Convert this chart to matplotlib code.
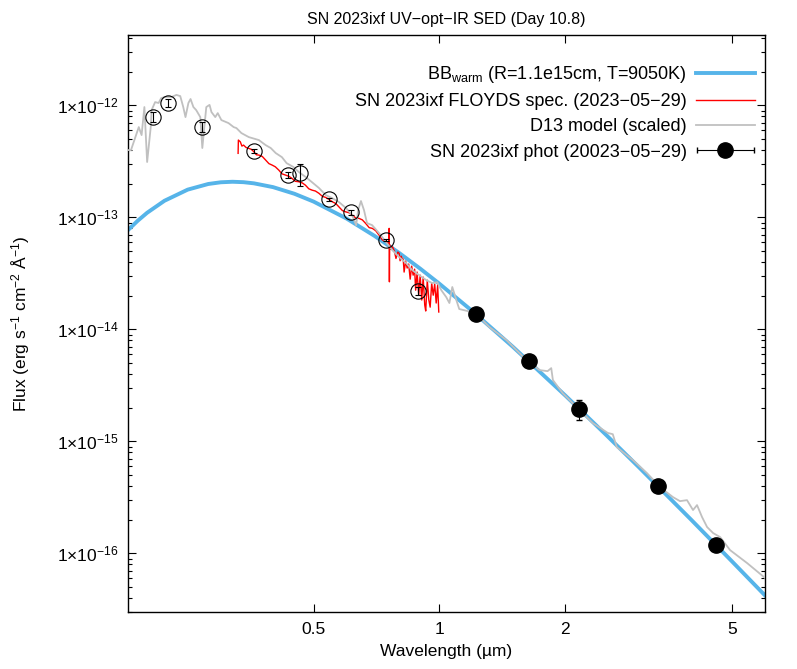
import numpy as np
import matplotlib
matplotlib.use("Agg")
import matplotlib.pyplot as plt
from matplotlib.ticker import FixedLocator, NullLocator, NullFormatter, FuncFormatter
from matplotlib.legend_handler import HandlerErrorbar
from matplotlib.container import ErrorbarContainer

plt.rcParams['font.family'] = ['Liberation Sans', 'DejaVu Sans']
plt.rcParams['mathtext.fontset'] = 'custom'
plt.rcParams['mathtext.rm'] = 'Liberation Sans'
plt.rcParams['mathtext.it'] = 'Liberation Sans:italic'
plt.rcParams['mathtext.bf'] = 'Liberation Sans:bold'

# blackbody curve (wavelength in um, flux in erg/s/cm2/A)
bb_wave = [0.18, 0.19, 0.20, 0.22, 0.25, 0.28, 0.30, 0.32, 0.34, 0.36, 0.40, 0.45,
           0.50, 0.60, 0.70, 0.80, 0.90, 1.0, 1.2, 1.5, 2.0, 2.5, 3.0, 4.0, 5.0, 6.0]
bb_flux = [7.70e-14, 9.35e-14, 1.100e-13, 1.407e-13, 1.769e-13, 1.987e-13, 2.058e-13,
           2.08e-13, 2.062e-13, 2.014e-13, 1.863e-13, 1.625e-13, 1.384e-13, 9.75e-14,
           6.82e-14, 4.83e-14, 3.479e-14, 2.553e-14, 1.450e-14, 6.957e-15, 2.564e-15,
           1.148e-15, 5.867e-16, 1.994e-16, 8.518e-17, 4.223e-17]

# FLOYDS spectrum
spec_wave = [0.330, 0.3305, 0.334, 0.337, 0.340, 0.345, 0.350, 0.355, 0.360, 0.365,
             0.370, 0.377, 0.384, 0.391, 0.398, 0.405, 0.413, 0.420, 0.428, 0.436,
             0.444, 0.452, 0.461, 0.470, 0.478, 0.487, 0.496, 0.505, 0.515, 0.525,
             0.534, 0.544, 0.554, 0.565, 0.575, 0.586, 0.597, 0.608, 0.619, 0.630,
             0.642, 0.654, 0.666, 0.679, 0.691, 0.704, 0.717, 0.730, 0.744, 0.755,
             0.757, 0.758, 0.759, 0.760, 0.765, 0.772, 0.780, 0.787, 0.795, 0.801,
             0.805, 0.810, 0.816,
             0.819, 0.823, 0.830, 0.837, 0.844, 0.851, 0.858, 0.865, 0.872, 0.877,
             0.884, 0.892, 0.899, 0.907, 0.914, 0.922, 0.927, 0.935, 0.943, 0.950,
             0.958, 0.966, 0.974, 0.982, 0.990, 0.996]
spec_flux = [3.73e-13, 4.90e-13, 4.73e-13, 4.33e-13, 4.42e-13, 4.20e-13, 4.13e-13, 4.05e-13, 3.85e-13, 3.62e-13,
             3.60e-13, 3.50e-13, 3.25e-13, 3.02e-13, 2.93e-13, 2.83e-13, 2.64e-13, 2.45e-13, 2.39e-13, 2.33e-13,
             2.23e-13, 2.10e-13, 2.08e-13, 2.03e-13, 1.94e-13, 1.80e-13, 1.75e-13, 1.72e-13, 1.64e-13, 1.54e-13,
             1.51e-13, 1.45e-13, 1.38e-13, 1.33e-13, 1.24e-13, 1.15e-13, 1.12e-13, 1.10e-13, 1.05e-13, 9.90e-14,
             9.80e-14, 9.50e-14, 8.84e-14, 8.10e-14, 7.98e-14, 7.60e-14, 6.95e-14, 6.30e-14, 6.05e-14, 5.86e-14,
             5.80e-14, 7.98e-14, 2.66e-14, 5.70e-14, 5.20e-14, 5.46e-14, 5.00e-14, 4.30e-14, 4.90e-14, 4.77e-14,
             4.10e-14, 4.50e-14, 4.16e-14,
             4.24e-14, 3.25e-14, 4.07e-14, 3.53e-14, 3.83e-14, 2.81e-14, 3.67e-14, 3.05e-14, 3.45e-14, 2.24e-14,
             3.25e-14, 2.02e-14, 3.05e-14, 1.83e-14, 2.93e-14, 1.65e-14, 1.46e-14, 2.75e-14, 1.83e-14, 1.58e-14,
             2.59e-14, 2.02e-14, 2.54e-14, 1.72e-14, 2.49e-14, 1.43e-14]

# D13 model (scaled)
mod_wave = [0.180, 0.183, 0.191, 0.194, 0.197, 0.200, 0.204, 0.205, 0.209, 0.213,
            0.216, 0.221, 0.229, 0.235, 0.240, 0.244, 0.247, 0.251, 0.254, 0.258,
            0.262, 0.268, 0.271, 0.274, 0.277, 0.282, 0.285, 0.291, 0.295, 0.301,
            0.313, 0.322, 0.327, 0.336, 0.350, 0.370, 0.384, 0.395, 0.406, 0.420,
            0.431, 0.448, 0.461, 0.479, 0.495, 0.515, 0.535, 0.553, 0.575, 0.598,
            0.618, 0.632, 0.639, 0.649, 0.660, 0.671, 0.690, 0.717, 0.745, 0.771,
            0.801, 0.832, 0.861, 0.894, 0.930, 0.961, 0.988, 1.010, 1.038, 1.056,
            1.073, 1.097, 1.115, 1.166, 1.225, 1.316, 1.446, 1.614, 1.735, 1.813,
            1.850, 1.867, 1.970, 2.164, 2.325, 2.526, 2.596, 2.654, 2.900, 3.133,
            3.365, 3.617, 3.758, 3.906, 4.038, 4.128, 4.244, 4.363, 4.510, 4.687,
            4.953, 5.441, 6.01]
mod_flux = [3.99e-13, 3.99e-13, 6.40e-13, 5.43e-13, 9.66e-13, 3.12e-13, 6.40e-13, 9.08e-13,
            1.07e-12, 1.05e-12, 1.16e-12, 1.19e-12, 1.19e-12, 1.24e-12, 1.21e-12, 9.66e-13,
            7.86e-13, 1.05e-12, 1.14e-12, 9.66e-13, 9.08e-13, 7.86e-13, 4.16e-13, 6.40e-13,
            9.66e-13, 1.01e-12, 8.71e-13, 7.86e-13, 8.53e-13, 7.39e-13, 6.95e-13, 6.40e-13,
            6.27e-13, 5.66e-13, 5.21e-13, 4.90e-13, 4.42e-13, 4.16e-13, 3.75e-13, 3.45e-13,
            3.05e-13, 2.81e-13, 2.54e-13, 2.29e-13, 2.07e-13, 1.83e-13, 1.58e-13, 1.49e-13,
            1.37e-13, 1.21e-13, 1.05e-13, 8.53e-14, 1.16e-13, 1.40e-13, 1.16e-13, 8.89e-14,
            8.53e-14, 7.24e-14, 6.02e-14, 5.11e-14, 4.42e-14, 3.91e-14, 3.38e-14, 3.05e-14,
            2.75e-14, 2.59e-14, 2.64e-14, 2.24e-14, 1.94e-14, 1.72e-14, 2.39e-14, 1.83e-14,
            1.52e-14, 1.46e-14, 1.37e-14, 1.05e-14, 8.02e-15, 5.32e-15, 4.33e-15, 4.24e-15,
            4.51e-15, 3.53e-15, 2.70e-15, 1.90e-15, 1.46e-15, 1.19e-15, 1.16e-15, 8.89e-16,
            6.81e-16, 5.21e-16, 3.91e-16, 3.18e-16, 2.93e-16, 2.99e-16, 2.44e-16, 2.70e-16,
            2.11e-16, 1.72e-16, 1.52e-16, 1.40e-16, 1.07e-16, 8.19e-17, 6.02e-17]

# UV/optical photometry (open circles)
uvo_wave = [0.207, 0.224, 0.271, 0.360, 0.435, 0.465, 0.544, 0.613, 0.744, 0.889]
uvo_flux = [7.91e-13, 1.055e-12, 6.44e-13, 3.93e-13, 2.39e-13, 2.47e-13, 1.456e-13,
            1.109e-13, 6.27e-14, 2.21e-14]
uvo_err = [0.8e-13, 0.9e-13, 0.7e-13, 0.16e-13, 0.15e-13, 0.55e-13, 0.045e-13,
           0.05e-13, 0.013e-13, 0.18e-14]

# NIR / MIR photometry (filled)
ir_wave = [1.223, 1.633, 2.155, 3.33, 4.59]
ir_flux = [1.37e-14, 5.25e-15, 1.95e-15, 4.02e-16, 1.19e-16]
ir_err = [0.03e-14, 0.1e-15, 0.41e-15, 0.08e-16, 0.03e-16]

xticks = [0.5, 1, 2, 5]
yticks = [1e-16, 1e-15, 1e-14, 1e-13, 1e-12]

fig = plt.figure(figsize=(7.97, 6.69), dpi=100)
ax = fig.add_axes([0.1606, 0.0852, 0.7992, 0.8625])

ax.plot(bb_wave, bb_flux, color='#56B4E9', lw=2.8, zorder=2,
        label=r'BB$_{\rm warm}$ (R=1.1e15cm, T=9050K)')
ax.plot(spec_wave, spec_flux, color='#FF0000', lw=1.0, zorder=3,
        label='SN 2023ixf FLOYDS spec. (2023\u221205\u221229)')
ax.plot(mod_wave, mod_flux, color='#C0C0C0', lw=1.3, zorder=4,
        label='D13 model (scaled)')
ax.errorbar(uvo_wave, uvo_flux, yerr=uvo_err, fmt='o', ms=11, mfc='none', mec='black',
            mew=0.8, ecolor='black', elinewidth=0.8, capsize=2.5, zorder=5)
ax.errorbar(ir_wave, ir_flux, yerr=ir_err, fmt='o', ms=11, color='black',
            elinewidth=0.8, capsize=2.5, zorder=6)
# legend proxy (gnuplot style horizontal bar)
ax.errorbar([np.nan], [np.nan], xerr=[1.0], fmt='o', ms=11, color='black',
            elinewidth=0.8, capsize=2.5, label='SN 2023ixf phot (20023\u221205\u221229)')

ax.set_xscale('log')
ax.set_yscale('log')
ax.set_xlim(0.18, 6.0)
ax.set_ylim(3e-17, 4.25e-12)

ax.xaxis.set_major_locator(FixedLocator(xticks))
ax.xaxis.set_major_formatter(FuncFormatter(lambda v, p: '%g' % v))
ax.xaxis.set_minor_locator(NullLocator())
ax.yaxis.set_major_locator(FixedLocator(yticks))
ax.yaxis.set_major_formatter(FuncFormatter(
    lambda v, p: r'$1{\times}10^{%d}$' % int(round(np.log10(v)))))
yminor = [m * 10.0 ** e for e in range(-17, -11) for m in range(2, 10)
          if 3e-17 <= m * 10.0 ** e <= 4.25e-12]
ax.yaxis.set_minor_locator(FixedLocator(yminor))
ax.yaxis.set_minor_formatter(NullFormatter())
ax.tick_params(which='both', direction='in', top=True, right=True, labelsize=12.5, width=0.8)
ax.tick_params(which='major', length=6, pad=7)
ax.tick_params(which='minor', length=3)
for s in ax.spines.values():
    s.set_linewidth(1.0)

ax.set_xlabel('Wavelength (\u00b5m)', fontsize=12.5, labelpad=5)
ax.set_ylabel('Flux (erg s$^{-1}$ cm$^{-2}$ \u00c5$^{-1}$)', fontsize=12.5, labelpad=18)
ax.set_title('SN 2023ixf UV\u2212opt\u2212IR SED (Day 10.8)', fontsize=11.5, pad=8)

leg = ax.legend(loc='upper right', bbox_to_anchor=(0.996, 0.962), borderaxespad=0,
                frameon=False, markerfirst=False, fontsize=13,
                handlelength=3.3, handletextpad=0.5, labelspacing=0.45,
                handler_map={ErrorbarContainer: HandlerErrorbar(xerr_size=1.6)})

fig.savefig('out.png', dpi=100)
